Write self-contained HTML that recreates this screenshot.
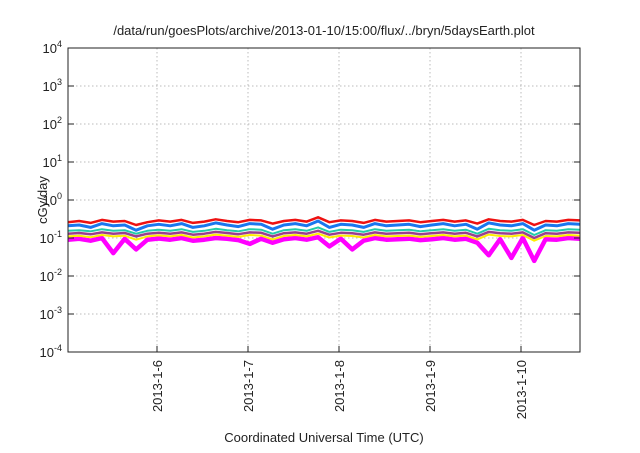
<!DOCTYPE html>
<html><head><meta charset="utf-8"><style>
body{margin:0;background:#fff}
svg text{font-family:"Liberation Sans",sans-serif;fill:#222}
</style></head><body>
<svg id="chart" width="640" height="448" xmlns="http://www.w3.org/2000/svg">
<text x="324" y="35" font-size="13" text-anchor="middle">/data/run/goesPlots/archive/2013-01-10/15:00/flux/../bryn/5daysEarth.plot</text>
<g id="grid"></g>
<g id="series"></g>
<rect x="68" y="48" width="512" height="304" fill="none" stroke="#222" stroke-width="1"/>
<g id="axes"></g>
<text transform="translate(47,200) rotate(-90)" font-size="13" text-anchor="middle">cGy/day</text>
<text x="324" y="442" font-size="13" text-anchor="middle">Coordinated Universal Time (UTC)</text>
</svg>
<script>
const xTickLabels=["2013-1-6","2013-1-7","2013-1-8","2013-1-9","2013-1-10"];
const xTickDays=[1,2,3,4,5];
const yTickExps=[-4,-3,-2,-1,0,1,2,3,4];
const tStart=0.02, tStep=0.125;
const red=[0.26,0.28,0.25,0.30,0.27,0.28,0.22,0.26,0.29,0.27,0.30,0.25,0.27,0.31,0.28,0.26,0.30,0.29,0.24,0.28,0.30,0.27,0.35,0.26,0.29,0.28,0.25,0.30,0.27,0.28,0.29,0.26,0.28,0.30,0.27,0.29,0.24,0.31,0.28,0.27,0.30,0.22,0.28,0.27,0.30,0.29];
const blue=[0.21,0.22,0.19,0.24,0.21,0.22,0.16,0.21,0.23,0.21,0.24,0.19,0.21,0.25,0.22,0.20,0.24,0.23,0.17,0.22,0.24,0.21,0.28,0.19,0.23,0.22,0.19,0.24,0.21,0.22,0.23,0.20,0.22,0.24,0.21,0.23,0.17,0.25,0.22,0.21,0.24,0.16,0.22,0.21,0.24,0.23];
const white=[0.18,0.19,0.17,0.20,0.18,0.19,0.15,0.18,0.19,0.18,0.20,0.17,0.18,0.21,0.19,0.17,0.20,0.19,0.15,0.19,0.20,0.18,0.23,0.17,0.19,0.19,0.17,0.20,0.18,0.19,0.19,0.17,0.19,0.20,0.18,0.19,0.15,0.21,0.19,0.18,0.20,0.14,0.19,0.18,0.20,0.19];
const teal=[0.155,0.16,0.15,0.17,0.155,0.16,0.13,0.155,0.165,0.155,0.17,0.145,0.155,0.175,0.16,0.15,0.17,0.165,0.13,0.16,0.17,0.155,0.19,0.145,0.165,0.16,0.145,0.17,0.155,0.16,0.165,0.15,0.16,0.17,0.155,0.165,0.13,0.175,0.16,0.155,0.17,0.12,0.16,0.155,0.17,0.165];
const purple=[0.13,0.135,0.125,0.14,0.13,0.135,0.11,0.13,0.138,0.13,0.14,0.122,0.13,0.145,0.135,0.126,0.14,0.137,0.11,0.134,0.14,0.13,0.155,0.122,0.137,0.134,0.122,0.14,0.13,0.134,0.137,0.126,0.134,0.14,0.13,0.137,0.11,0.145,0.134,0.13,0.14,0.10,0.134,0.13,0.14,0.137];
const yellow=[0.11,0.115,0.105,0.12,0.11,0.115,0.09,0.11,0.117,0.11,0.12,0.103,0.11,0.123,0.115,0.107,0.12,0.116,0.092,0.113,0.12,0.11,0.13,0.103,0.116,0.113,0.103,0.12,0.11,0.113,0.116,0.107,0.113,0.12,0.11,0.116,0.092,0.123,0.113,0.11,0.12,0.085,0.113,0.11,0.12,0.116];
const magenta=[0.09,0.095,0.085,0.10,0.04,0.095,0.05,0.09,0.097,0.09,0.10,0.085,0.09,0.10,0.095,0.088,0.07,0.096,0.075,0.093,0.10,0.09,0.105,0.06,0.096,0.05,0.085,0.10,0.09,0.093,0.096,0.088,0.093,0.10,0.09,0.096,0.075,0.035,0.093,0.03,0.10,0.025,0.093,0.09,0.10,0.096];
const X0=68,X1=580,Y0=48,Y1=352;
const dayMin=(68-66)/91, dayMax=(580-66)/91;
function xs(d){return X0+(d-dayMin)/(dayMax-dayMin)*(X1-X0);}
function ys(v){return Y1-(Math.log10(v)+4)/8*(Y1-Y0);}
const NS="http://www.w3.org/2000/svg";
function mk(tag,attrs,parent){const e=document.createElementNS(NS,tag);for(const k in attrs)e.setAttribute(k,attrs[k]);parent.appendChild(e);return e;}
const grid=document.getElementById('grid'),axes=document.getElementById('axes'),ser=document.getElementById('series');
yTickExps.forEach(function(p){
  const y=ys(Math.pow(10,p));
  if(p>-4&&p<4){const g=mk('line',{x1:X0,x2:X1,y1:y,y2:y,stroke:'#bbb','stroke-dasharray':'1.5,2.5'},grid);
  
  }
  const t1=mk('line',{x1:X0,x2:X0+6,y1:y,y2:y,stroke:'#222'},axes);
  
  
  const t2=mk('line',{x1:X1-6,x2:X1,y1:y,y2:y,stroke:'#222'},axes);
  
  
  const tx=mk('text',{x:X0-6,y:y+5,'font-size':'13','text-anchor':'end'},axes);
  
  
  tx.textContent='10';
  const sup=mk('tspan',{dy:'-6','font-size':'9'},tx);sup.textContent=String(p);
});
xTickDays.forEach(function(d,i){
  const x=xs(d);
  const g=mk('line',{x1:x,x2:x,y1:Y0,y2:Y1,stroke:'#bbb','stroke-dasharray':'1.5,2.5'},grid);
  
  
  const t=mk('line',{x1:x,x2:x,y1:Y1-6,y2:Y1,stroke:'#222'},axes);
  
  
  const tx=mk('text',{transform:'translate('+(x+5)+',360) rotate(-90)','font-size':'13','text-anchor':'end'},axes);
  
  
  tx.textContent=xTickLabels[i];
});
const seriesList=[[magenta,'#ff00ff',4.5,'series-magenta'],[yellow,'#ffee00',2,'series-yellow'],[purple,'#9b3f8f',2.5,'series-purple'],[teal,'#22ccaa',2,'series-teal'],[white,'#ffffff',2,'series-white'],[red,'#ee1111',2.5,'series-red'],[blue,'#1a77ee',3,'series-blue']];
seriesList.forEach(function(s){
  const pts=s[0].map(function(v,i){return xs(tStart+i*tStep).toFixed(1)+','+ys(v).toFixed(1);}).join(' ');
  const p=mk('polyline',{points:pts,fill:'none',stroke:s[1],'stroke-width':s[2],'stroke-linejoin':'round'},ser);
  
  
});
</script>
</body></html>
